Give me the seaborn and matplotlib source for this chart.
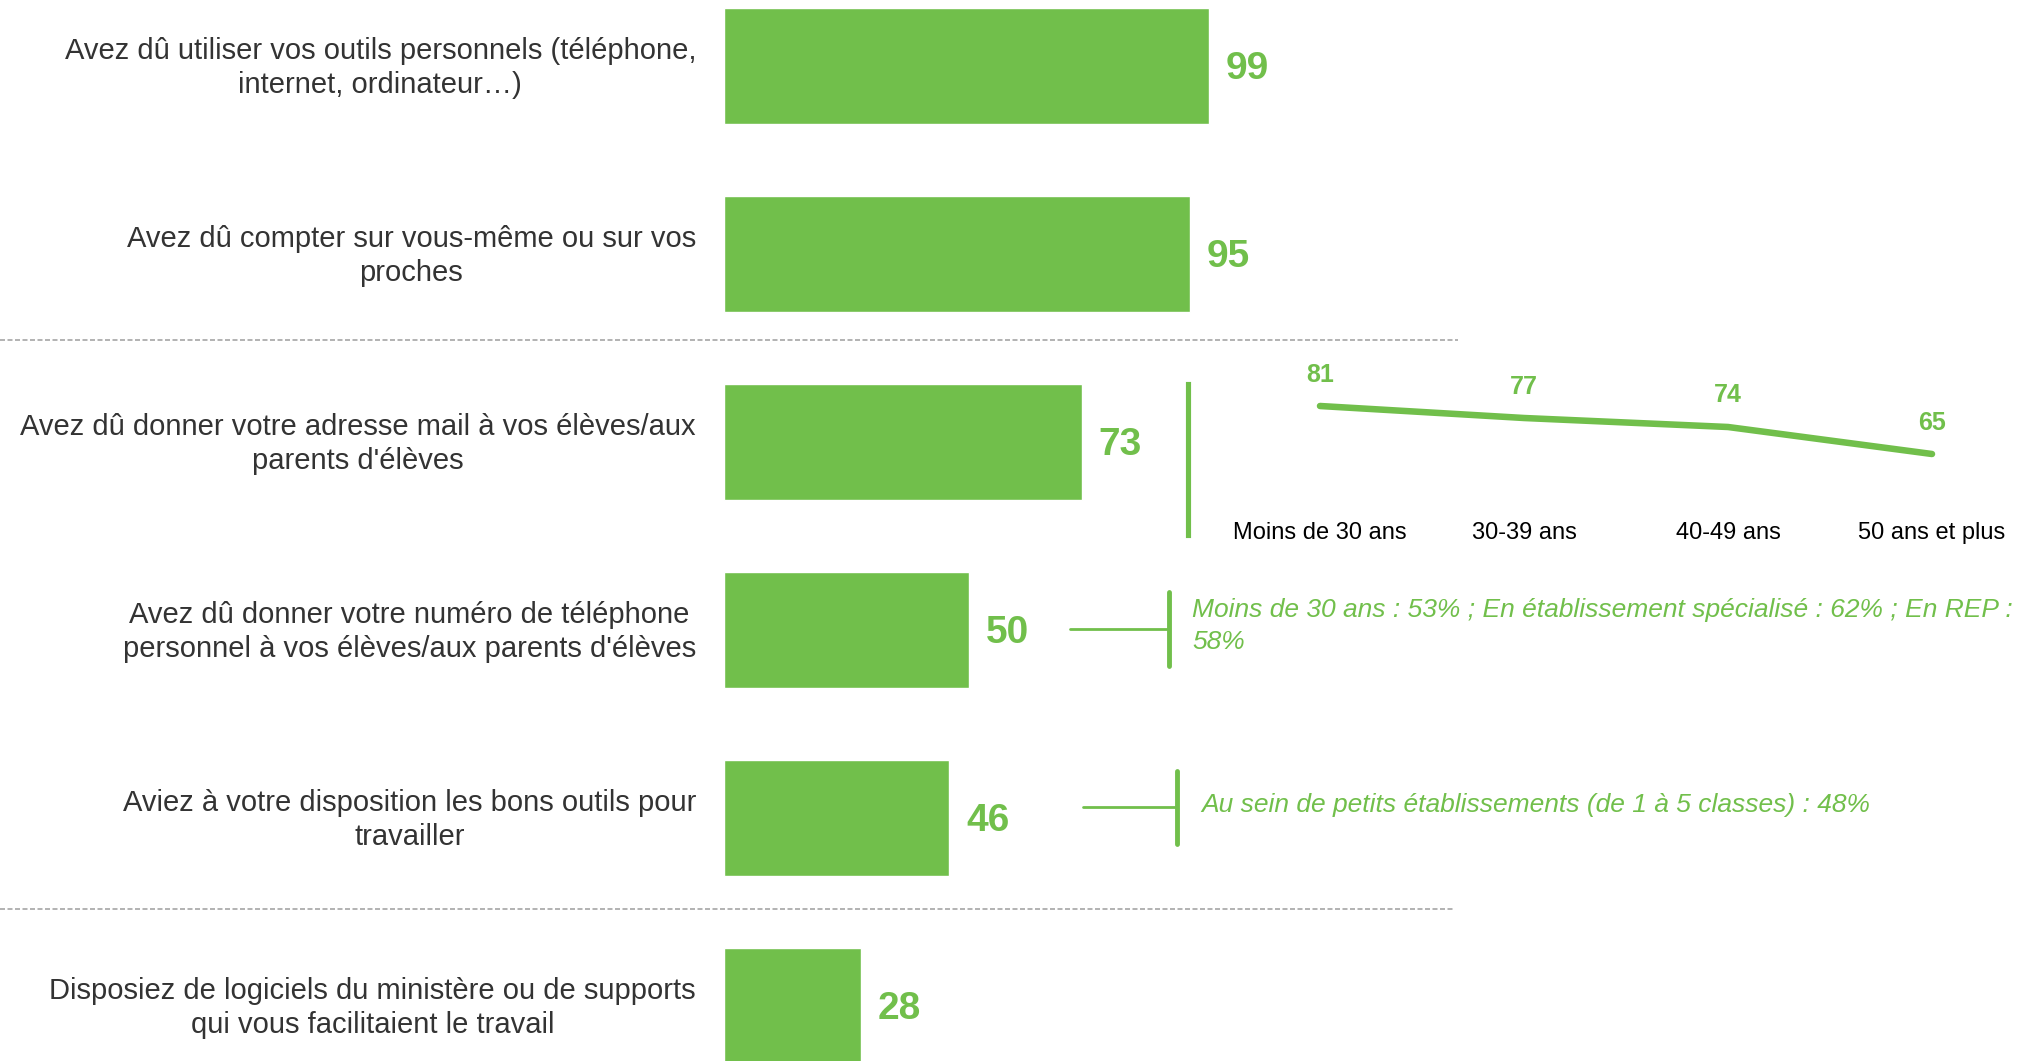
import numpy as np
import matplotlib.pyplot as plt
import pandas as pd
import seaborn as sns

# data
questions = [
    "Avez dû utiliser vos outils personnels (téléphone,\ninternet, ordinateur…)",
    "Avez dû compter sur vous-même ou sur vos\nproches",
    "Avez dû donner votre adresse mail à vos élèves/aux\nparents d'élèves",
    "Avez dû donner votre numéro de téléphone\npersonnel à vos élèves/aux parents d'élèves",
    "Aviez à votre disposition les bons outils pour\ntravailler",
    "Disposiez de logiciels du ministère ou de supports\nqui vous facilitaient le travail",
]
scores = [99, 95, 73, 50, 46, 28]

age_groups = ["Moins de 30 ans", "30-39 ans", "40-49 ans", "50 ans et plus"]
age_scores = [81, 77, 74, 65]

note_phone = "Moins de 30 ans : 53% ; En établissement spécialisé : 62% ; En REP :\n58%"
note_tools = "Au sein de petits établissements (de 1 à 5 classes) : 48%"

GREEN = "#71BF4B"
TEXT = "#333333"
W, H = 2021, 1061

sns.set_theme(style="white")
plt.rcParams["font.family"] = ["Liberation Sans", "DejaVu Sans"]

df = pd.DataFrame({"question": questions, "score": scores})

fig = plt.figure(figsize=(W / 100, H / 100), dpi=100)
ax = fig.add_axes([0, 0, 1, 1])
sns.barplot(data=df, x="score", y="question", orient="h", color=GREEN,
            saturation=1, width=0.62, ax=ax)

# pixel layout of the main axes: 0 at x=724px, 4.9px per point, rows 188px apart
x0, xs = 724, 4.9
y0, ys = 66, 188
px2x = lambda p: (p - x0) / xs
px2y = lambda p: (p - y0) / ys
ax.set_xlim(px2x(0), px2x(W))
ax.set_ylim(px2y(H), px2y(0))
ax.set_axis_off()

for i, (q, v) in enumerate(zip(questions, scores)):
    ax.text(px2x(696), i + 0.01, q, ha="right", va="center", ma="center",
            fontsize=21, color=TEXT, linespacing=1.3)
    ax.text(v + 3.4, i + 0.015, str(v), ha="left", va="center", fontsize=28,
            fontweight="bold", color=GREEN)

# dashed separators
for yp, xr in [(340, 1458), (909, 1454)]:
    ax.plot([px2x(0), px2x(xr)], [px2y(yp)] * 2, color="#A6A6A6", lw=1.2,
            ls=(0, (3, 1.5)))

# brackets with notes
ax.plot([px2x(1070), px2x(1167)], [px2y(629)] * 2, color=GREEN, lw=2)
ax.plot([px2x(1169)] * 2, [px2y(592), px2y(666)], color=GREEN, lw=3.5)
ax.text(px2x(1192), px2y(626), note_phone, ha="left", va="center",
        fontsize=19, style="italic", color=GREEN, linespacing=1.4)

ax.plot([px2x(1083), px2x(1175)], [px2y(807)] * 2, color=GREEN, lw=2)
ax.plot([px2x(1177)] * 2, [px2y(771), px2y(844)], color=GREEN, lw=3.5)
ax.text(px2x(1201), px2y(805), note_tools, ha="left", va="center",
        fontsize=19, style="italic", color=GREEN)

# inset: breakdown by age
il, it, ib = 1188, 384, 535
iax = fig.add_axes([il / W, 1 - ib / H, (W - il) / W, (ib - it) / H])
iax.patch.set_alpha(0)
age_df = pd.DataFrame({"age": age_groups, "score": age_scores})
sns.lineplot(data=age_df, x="age", y="score", color=GREEN, lw=4.7, ax=iax,
             solid_capstyle="round", sort=False)
dx = 204
iax.set_xlim(-(1320 - il) / dx, (W - 1320) / dx)
top = 81 + (406 - it) / 3
iax.set_ylim(top - (ib - it) / 3, top)
for k, (g, v) in enumerate(zip(age_groups, age_scores)):
    iax.text(k, v + 10.5, str(v), ha="center", va="center", fontsize=18,
             fontweight="bold", color=GREEN)
    iax.text(k, 2 / (ib - it), g, ha="center", va="center", fontsize=17,
             color="black", transform=iax.get_xaxis_transform())
iax.set_xticks([])
iax.set_yticks([])
iax.set_xlabel("")
iax.set_ylabel("")
for s in ["top", "right", "bottom"]:
    iax.spines[s].set_visible(False)
iax.spines["left"].set_color(GREEN)
iax.spines["left"].set_linewidth(3.7)

fig.savefig("out.png", dpi=100)
